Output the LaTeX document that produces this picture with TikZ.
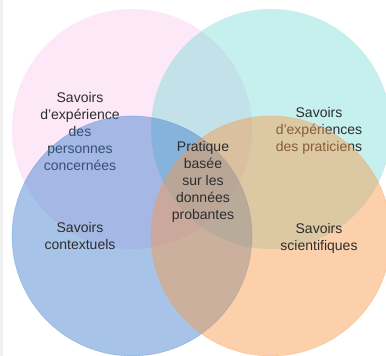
\documentclass[tikz,border=0pt]{standalone}
\usepackage{fontspec}
\setmainfont{Liberation Sans}
\usepackage{tikz}
\usetikzlibrary{positioning}
\usepackage{xcolor}

\definecolor{savpink}{RGB}{248,175,228}
\definecolor{savcyan}{RGB}{95,215,208}
\definecolor{savblue}{RGB}{60,125,205}
\definecolor{savorange}{RGB}{248,152,70}
\definecolor{savtext}{RGB}{45,45,45}

\tikzset{
  savlabel/.style={align=center, inner sep=0pt, text=savtext,
    font=\fontsize{14}{17}\selectfont},
}

\begin{document}
\begin{tikzpicture}[x=1pt, y=-1pt, line width=0.6]
      \useasboundingbox (0,0) rectangle (386,356);
      \fill[white] (0,0) rectangle (386,356);
      \fill[gray!12] (0,0) rectangle (3,356);

      %top circles
      \draw[fill=savpink, fill opacity=0.28, draw=none] (132,129) circle (120);
      \draw[fill=savcyan, fill opacity=0.36, draw=none] (271,129) circle (120);

      \node[savlabel] (perso) at (80,131) {Savoirs\\d'expérience\\des\\personnes\\concernées};
      \node[savlabel] (prat) at (319,131) {Savoirs\\d'expériences\\des praticiens};

      %bottom circles
      \draw[fill=savblue, fill opacity=0.45, draw=savblue, draw opacity=0.3] (132,236) circle (120);
      \draw[fill=savorange, fill opacity=0.45, draw=savorange, draw opacity=0.3] (271,236) circle (120);

      \node[savlabel] (centre) at (203,182) {Pratique\\basée\\sur les\\données\\probantes};
      \node[savlabel] (context) at (80,236) {Savoirs\\contextuels};
      \node[savlabel] (scient) at (319,238) {Savoirs\\scientifiques};
  \end{tikzpicture}
\end{document}
